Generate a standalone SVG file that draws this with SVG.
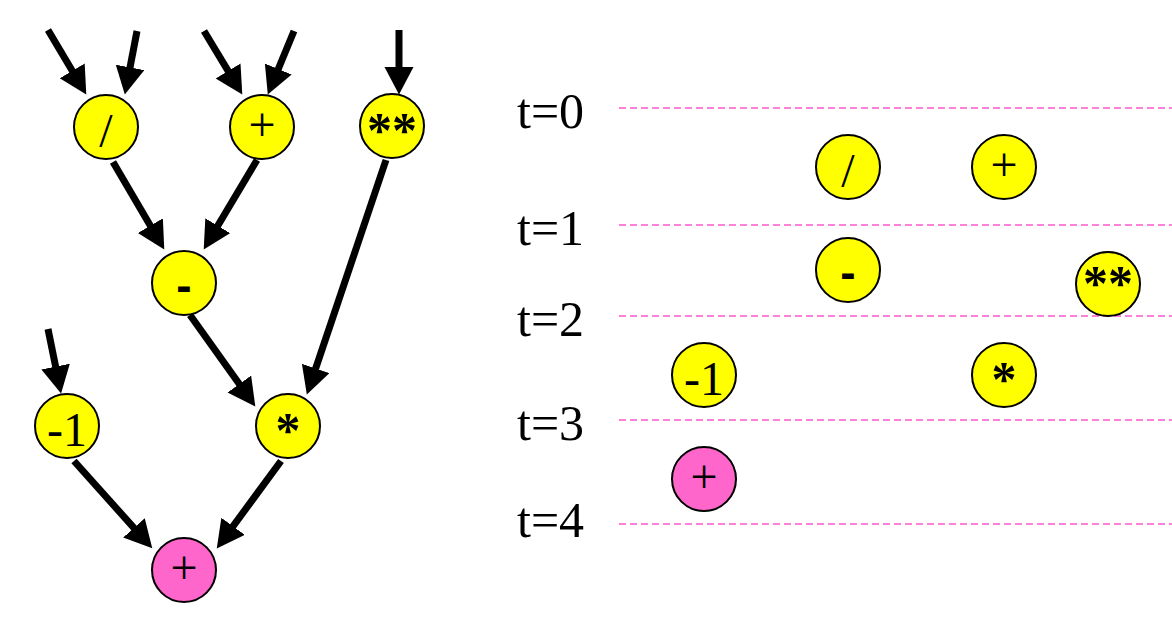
<svg xmlns="http://www.w3.org/2000/svg" width="1172" height="617" viewBox="0 0 1172 617">
<defs>
<marker id="ah" markerUnits="userSpaceOnUse" markerWidth="30" markerHeight="30" refX="7" refY="14.5" orient="auto">
<path d="M0,0 L27.5,14.5 L0,29 Z" fill="#000"/>
</marker>
</defs>
<style>
.edge{stroke:#000;stroke-width:7;fill:none;marker-end:url(#ah)}
.y{fill:#ffff00;stroke:#000;stroke-width:2}
.p{fill:#ff66cc;stroke:#000;stroke-width:2}
.tm{font-family:"Liberation Serif","Times New Roman",serif;font-size:48px;text-anchor:middle;fill:#000}
.bd{font-family:"Liberation Sans",Arial,sans-serif;font-weight:bold;font-size:46px;text-anchor:middle;fill:#000}
.ast{font-family:"Liberation Serif","Times New Roman",serif;font-weight:bold;font-size:50px;text-anchor:middle;fill:#000}
.lbl{font-family:"Liberation Serif","Times New Roman",serif;font-size:50px;fill:#000}
.dash{stroke:#ff80d8;stroke-width:2;stroke-dasharray:7,4;fill:none}
</style>
<rect width="1172" height="617" fill="#fff"/>
<g id="connectors">
<line class="edge" x1="48" y1="30" x2="75.8" y2="76.8"/>
<line class="edge" x1="137" y1="31" x2="128.7" y2="74.3"/>
<line class="edge" x1="204" y1="31" x2="231.7" y2="76.9"/>
<line class="edge" x1="294" y1="31" x2="275.6" y2="75.5"/>
<line class="edge" x1="399" y1="30" x2="399" y2="74"/>
<line class="edge" x1="113" y1="162" x2="153.9" y2="231.7"/>
<line class="edge" x1="257" y1="160" x2="214.2" y2="231.8"/>
<line class="edge" x1="386" y1="160" x2="313.4" y2="375.1"/>
<line class="edge" x1="190" y1="315" x2="243.4" y2="389.7"/>
<line class="edge" x1="48" y1="329" x2="57" y2="373.4"/>
<line class="edge" x1="74" y1="461" x2="138.6" y2="533.1"/>
<line class="edge" x1="281" y1="461" x2="228.9" y2="531.9"/>
</g>
<g id="n_div"><circle class="y" cx="106" cy="127" r="32"/><text class="tm" x="106" y="147">/</text></g>
<g id="n_add1"><circle class="y" cx="262" cy="127" r="32"/><text class="tm" x="262" y="141">+</text></g>
<g id="n_pow"><circle class="y" cx="392" cy="126" r="32"/><text class="ast" x="392" y="147">**</text></g>
<g id="n_sub"><circle class="y" cx="184" cy="283" r="32"/><text class="bd" x="184" y="301">-</text></g>
<g id="n_neg"><circle class="y" cx="67" cy="426" r="32"/><text class="tm" x="67" y="446">-1</text></g>
<g id="n_mul"><circle class="y" cx="288" cy="426" r="32"/><text class="ast" x="288" y="447">*</text></g>
<g id="n_add2"><circle class="p" cx="184" cy="570" r="32"/><text class="tm" x="184" y="584">+</text></g>
<g id="schedule">
<line class="dash" x1="619" y1="108" x2="1172" y2="108"/>
<line class="dash" x1="619" y1="225" x2="1172" y2="225"/>
<line class="dash" x1="619" y1="316" x2="1172" y2="316"/>
<line class="dash" x1="619" y1="420" x2="1172" y2="420"/>
<line class="dash" x1="619" y1="524" x2="1172" y2="524"/>
<text class="lbl" x="517" y="128">t=0</text>
<text class="lbl" x="517" y="245">t=1</text>
<text class="lbl" x="517" y="336">t=2</text>
<text class="lbl" x="517" y="440">t=3</text>
<text class="lbl" x="517" y="537">t=4</text>
</g>
<g id="s_div"><circle class="y" cx="848" cy="167" r="32"/><text class="tm" x="848" y="187">/</text></g>
<g id="s_add1"><circle class="y" cx="1004" cy="167" r="32"/><text class="tm" x="1004" y="181">+</text></g>
<g id="s_sub"><circle class="y" cx="848" cy="270" r="32"/><text class="bd" x="848" y="288">-</text></g>
<g id="s_pow"><circle class="y" cx="1108" cy="284" r="32"/><text class="ast" x="1108" y="300">**</text></g>
<g id="s_neg"><circle class="y" cx="704" cy="375" r="32"/><text class="tm" x="704" y="395">-1</text></g>
<g id="s_mul"><circle class="y" cx="1004" cy="375" r="32"/><text class="ast" x="1004" y="396">*</text></g>
<g id="s_add2"><circle class="p" cx="704" cy="479" r="32"/><text class="tm" x="704" y="493">+</text></g>
</svg>
